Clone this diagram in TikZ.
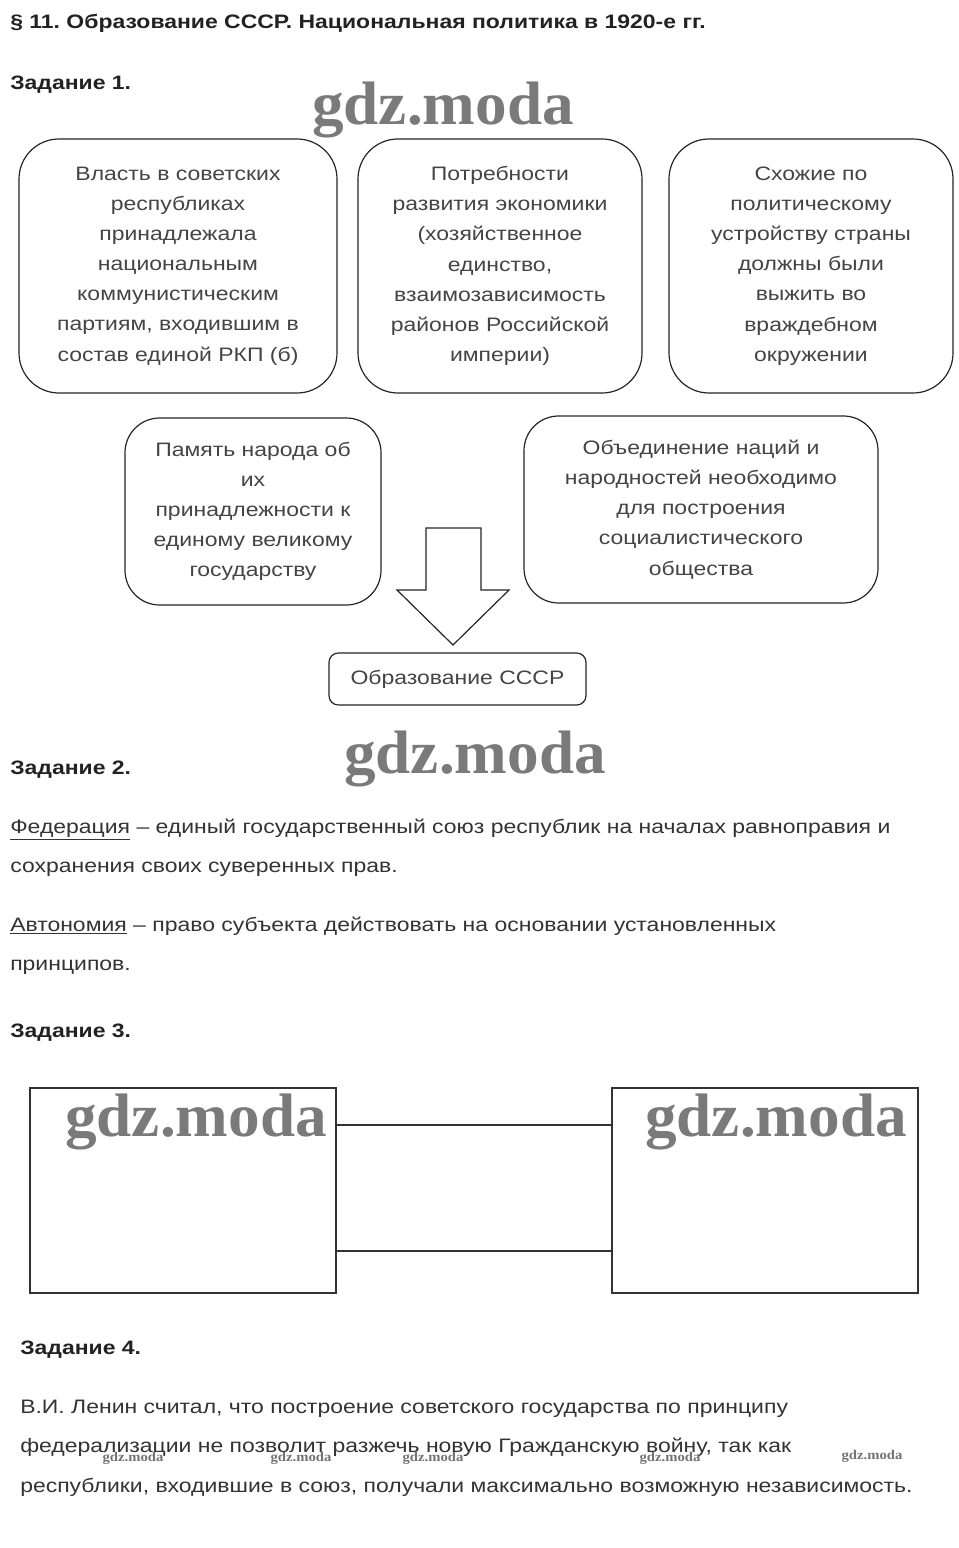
\documentclass[tikz,border=0pt]{standalone}
\usepackage{fontspec}
\setmainfont[FakeStretch=1.18]{Liberation Sans}
\newfontfamily\wmfont{Liberation Serif}
\usetikzlibrary{calc}
\frenchspacing
\definecolor{txt}{HTML}{333333}
\definecolor{boxtxt}{HTML}{444444}
\definecolor{ttl}{HTML}{222222}
\newcommand{\bodyfont}{\fontsize{14.6pt}{22.6pt}\selectfont}
\tikzset{
  px/.style={x=0.75pt,y=-0.75pt},
  rbox/.style={draw=black!85, line width=0.9pt, rounded corners=#1, align=center, text=boxtxt, font=\bodyfont, inner sep=0pt},
  heading/.style={anchor=base west, inner sep=0pt, text=ttl, font=\fontsize{14.6pt}{18pt}\selectfont\bfseries},
  body/.style={anchor=base west, inner sep=0pt, text=txt, font=\bodyfont},
  wmbig/.style={inner sep=0pt, text=black!52, font=\fontsize{46pt}{46pt}\selectfont\wmfont\bfseries, xscale=1.03},
  wmsmall/.style={inner sep=0pt, text=black!55, font=\fontsize{10pt}{10pt}\selectfont\wmfont\bfseries, xscale=1.1},
  sqbox/.style={draw=black!80, line width=1.5pt, inner sep=0pt},
  link/.style={draw=black!80, line width=1.5pt},
}
\begin{document}
\begin{tikzpicture}[px]
\useasboundingbox[fill=white] (0,0) rectangle (959,1548);

% headings
\node[heading] (title) at (10,29) {§ 11. Образование СССР. Национальная политика в 1920-е гг.};
\node[heading] (z1) at (10,90) {Задание 1.};

\node[wmbig] (wm1) at (443,110) {gdz.moda};

% top row boxes
\node[rbox=30pt, minimum width=318*0.75pt, minimum height=254*0.75pt] (a) at (178,266)
 {Власть в советских\\республиках\\принадлежала\\национальным\\коммунистическим\\партиям, входившим в\\состав единой РКП (б)};
\node[rbox=30pt, minimum width=284*0.75pt, minimum height=254*0.75pt] (b) at (500,266)
 {Потребности\\развития экономики\\(хозяйственное\\единство,\\взаимозависимость\\районов Российской\\империи)};
\node[rbox=30pt, minimum width=284*0.75pt, minimum height=254*0.75pt] (c) at (811,266)
 {Схожие по\\политическому\\устройству страны\\должны были\\выжить во\\враждебном\\окружении};

% second row
\node[rbox=26pt, minimum width=256*0.75pt, minimum height=187*0.75pt] (d) at (253,511.5)
 {Память народа об\\их\\принадлежности к\\единому великому\\государству};
\node[rbox=26pt, minimum width=354*0.75pt, minimum height=187*0.75pt] (e) at (701,509.5)
 {Объединение наций и\\народностей необходимо\\для построения\\социалистического\\общества};

% result
\node[rbox=7pt, minimum width=257*0.75pt, minimum height=52*0.75pt] (f) at (457.5,679)
 {Образование СССР};

% block arrow
\coordinate (tip) at (453,645);
\draw[black!85, line width=0.9pt, fill=white, line join=miter]
  ($(tip)+(-27,-117)$) -- ($(tip)+(28,-117)$) -- ($(tip)+(28,-55)$) -- ($(tip)+(56,-55)$)
  -- (tip) -- ($(tip)+(-56,-55)$) -- ($(tip)+(-27,-55)$) -- cycle;

% task 2
\node[heading] (z2) at (10,774) {Задание 2.};
\node[wmbig] (wm2) at (475,759) {gdz.moda};
\node[body] (fed1) at (10,833) {\underline{Федерация} – единый государственный союз республик на началах равноправия и};
\node[body] (fed2) at (10,872) {сохранения своих суверенных прав.};
\node[body] (aut1) at (10,931) {\underline{Автономия} – право субъекта действовать на основании установленных};
\node[body] (aut2) at (10,970) {принципов.};

% task 3
\node[heading] (z3) at (10,1037) {Задание 3.};
\node[sqbox, minimum width=306*0.75pt, minimum height=205*0.75pt] (l) at (183,1190.5) {};
\node[sqbox, minimum width=306*0.75pt, minimum height=205*0.75pt] (r) at (765,1190.5) {};
\draw[link] ($(l.north east)!0.185!(l.south east)$) -- ($(r.north west)!0.185!(r.south west)$);
\draw[link] ($(l.north east)!0.79!(l.south east)$) -- ($(r.north west)!0.79!(r.south west)$);
\node[wmbig] (wm3) at (196,1122) {gdz.moda};
\node[wmbig] (wm4) at (776,1122) {gdz.moda};

% task 4
\node[heading] (z4) at (20,1354) {Задание 4.};
\node[body] (p1) at (20,1413) {В.И. Ленин считал, что построение советского государства по принципу};
\node[body] (p2) at (20,1452) {федерализации не позволит разжечь новую Гражданскую войну, так как};
\node[body] (p3) at (20,1492) {республики, входившие в союз, получали максимально возможную независимость.};
\node[wmsmall] (s1) at (133,1458) {gdz.moda};
\node[wmsmall] (s2) at (301,1458) {gdz.moda};
\node[wmsmall] (s3) at (433,1458) {gdz.moda};
\node[wmsmall] (s4) at (670,1458) {gdz.moda};
\node[wmsmall] (s5) at (872,1456) {gdz.moda};
\end{tikzpicture}
\end{document}
